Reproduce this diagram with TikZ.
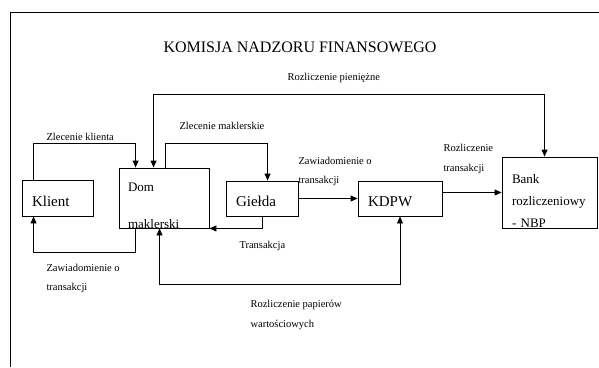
\documentclass[tikz,border=0pt]{standalone}
\usepackage{fontspec}
\setmainfont{Liberation Serif}
\usetikzlibrary{positioning, arrows.meta}
\tikzset{
        box/.style={draw, rectangle, line width=0.9pt, align=left, inner xsep=10pt, inner ysep=0pt, text height=16pt, text depth=0pt, font=\fontsize{15}{18}\selectfont},
        tallbox/.style={box, font=\fontsize{13}{22}\selectfont},
        textlabel/.style={anchor=base, font=\fontsize{16}{19}\selectfont},
        smalltext/.style={align=left, anchor=base west, font=\fontsize{10.5}{19.5}\selectfont},
        arr/.style={line width=0.9pt, -{Triangle[length=7pt, width=6pt]}},
        dblarr/.style={line width=0.9pt, {Triangle[length=7pt, width=6pt]}-{Triangle[length=7pt, width=6pt]}},
    }
\begin{document}
\begin{tikzpicture}[x=1pt, y=-1pt]
        \useasboundingbox (0,0) rectangle (599,367);

        % Ramka i tytul
        \draw[line width=0.9pt] (10,367) -- (10,12) -- (599,12);
        \node[textlabel] (title) at (300,52) {KOMISJA NADZORU FINANSOWEGO};

        % Uczestnicy
        \node[box, text width=51pt, minimum height=36pt] (klient) at (57.5,198) {Klient};
        \node[tallbox, inner xsep=9pt, text width=72pt, minimum height=60pt, text height=10pt, text depth=24pt, font=\fontsize{13}{37}\selectfont] (dom) at (164,198) {Dom\\maklerski};
        \node[box, text width=52pt, minimum height=35pt] (gielda) at (262,198.5) {Giełda};
        \node[box, text width=64pt, minimum height=35pt] (kdpw) at (400,198.5) {KDPW};
        \node[tallbox, text width=75pt, minimum height=71pt, text height=10pt, text depth=29pt] (bank) at (549.5,192.5) {Bank\\rozliczeniowy\\- NBP};

        % Przeplywy
        \draw[arr] ([xshift=12pt]klient.north west) -- ++(0,-36) -| ([xshift=17pt]dom.north west);
        \draw[dblarr] ([xshift=35pt]dom.north west) -- ++(0,-73) -| ([xshift=43pt]bank.north west);
        \draw[arr] ([xshift=47pt]dom.north west) -- ++(0,-24) -| ([xshift=42pt]gielda.north west);
        \draw[arr] ([xshift=37pt]gielda.south west) |- (dom.south east);
        \draw[arr] (gielda.east) -- (kdpw.west);
        \draw[arr] (kdpw.east |- bank.west) -- (bank.west);
        \draw[arr] ([xshift=17pt]dom.south west) -- ++(0,24) -| ([xshift=12pt]klient.south west);
        \draw[dblarr] (kdpw.south) -- ++(0,68) -| ([xshift=41pt]dom.south west);

        % Opisy (dwuwierszowe: punkt bazowy na ostatnim wierszu)
        \node[smalltext] (zlklient) at (43,140.5) {Zlecenie klienta};
        \node[smalltext] (zlmakl) at (176,129) {Zlecenie maklerskie};
        \node[smalltext] (rozpien) at (284,80.5) {Rozliczenie pieniężne};
        \node[smalltext] (zawgielda) at (295,183.5) {Zawiadomienie o\\transakcji};
        \node[smalltext] (roztrans) at (440,171) {Rozliczenie\\transakcji};
        \node[smalltext] (transakcja) at (236,248) {Transakcja};
        \node[smalltext] (zawklient) at (43,290.5) {Zawiadomienie o\\transakcji};
        \node[smalltext] (rozpap) at (247,327) {Rozliczenie papierów\\wartościowych};

    \end{tikzpicture}
\end{document}
